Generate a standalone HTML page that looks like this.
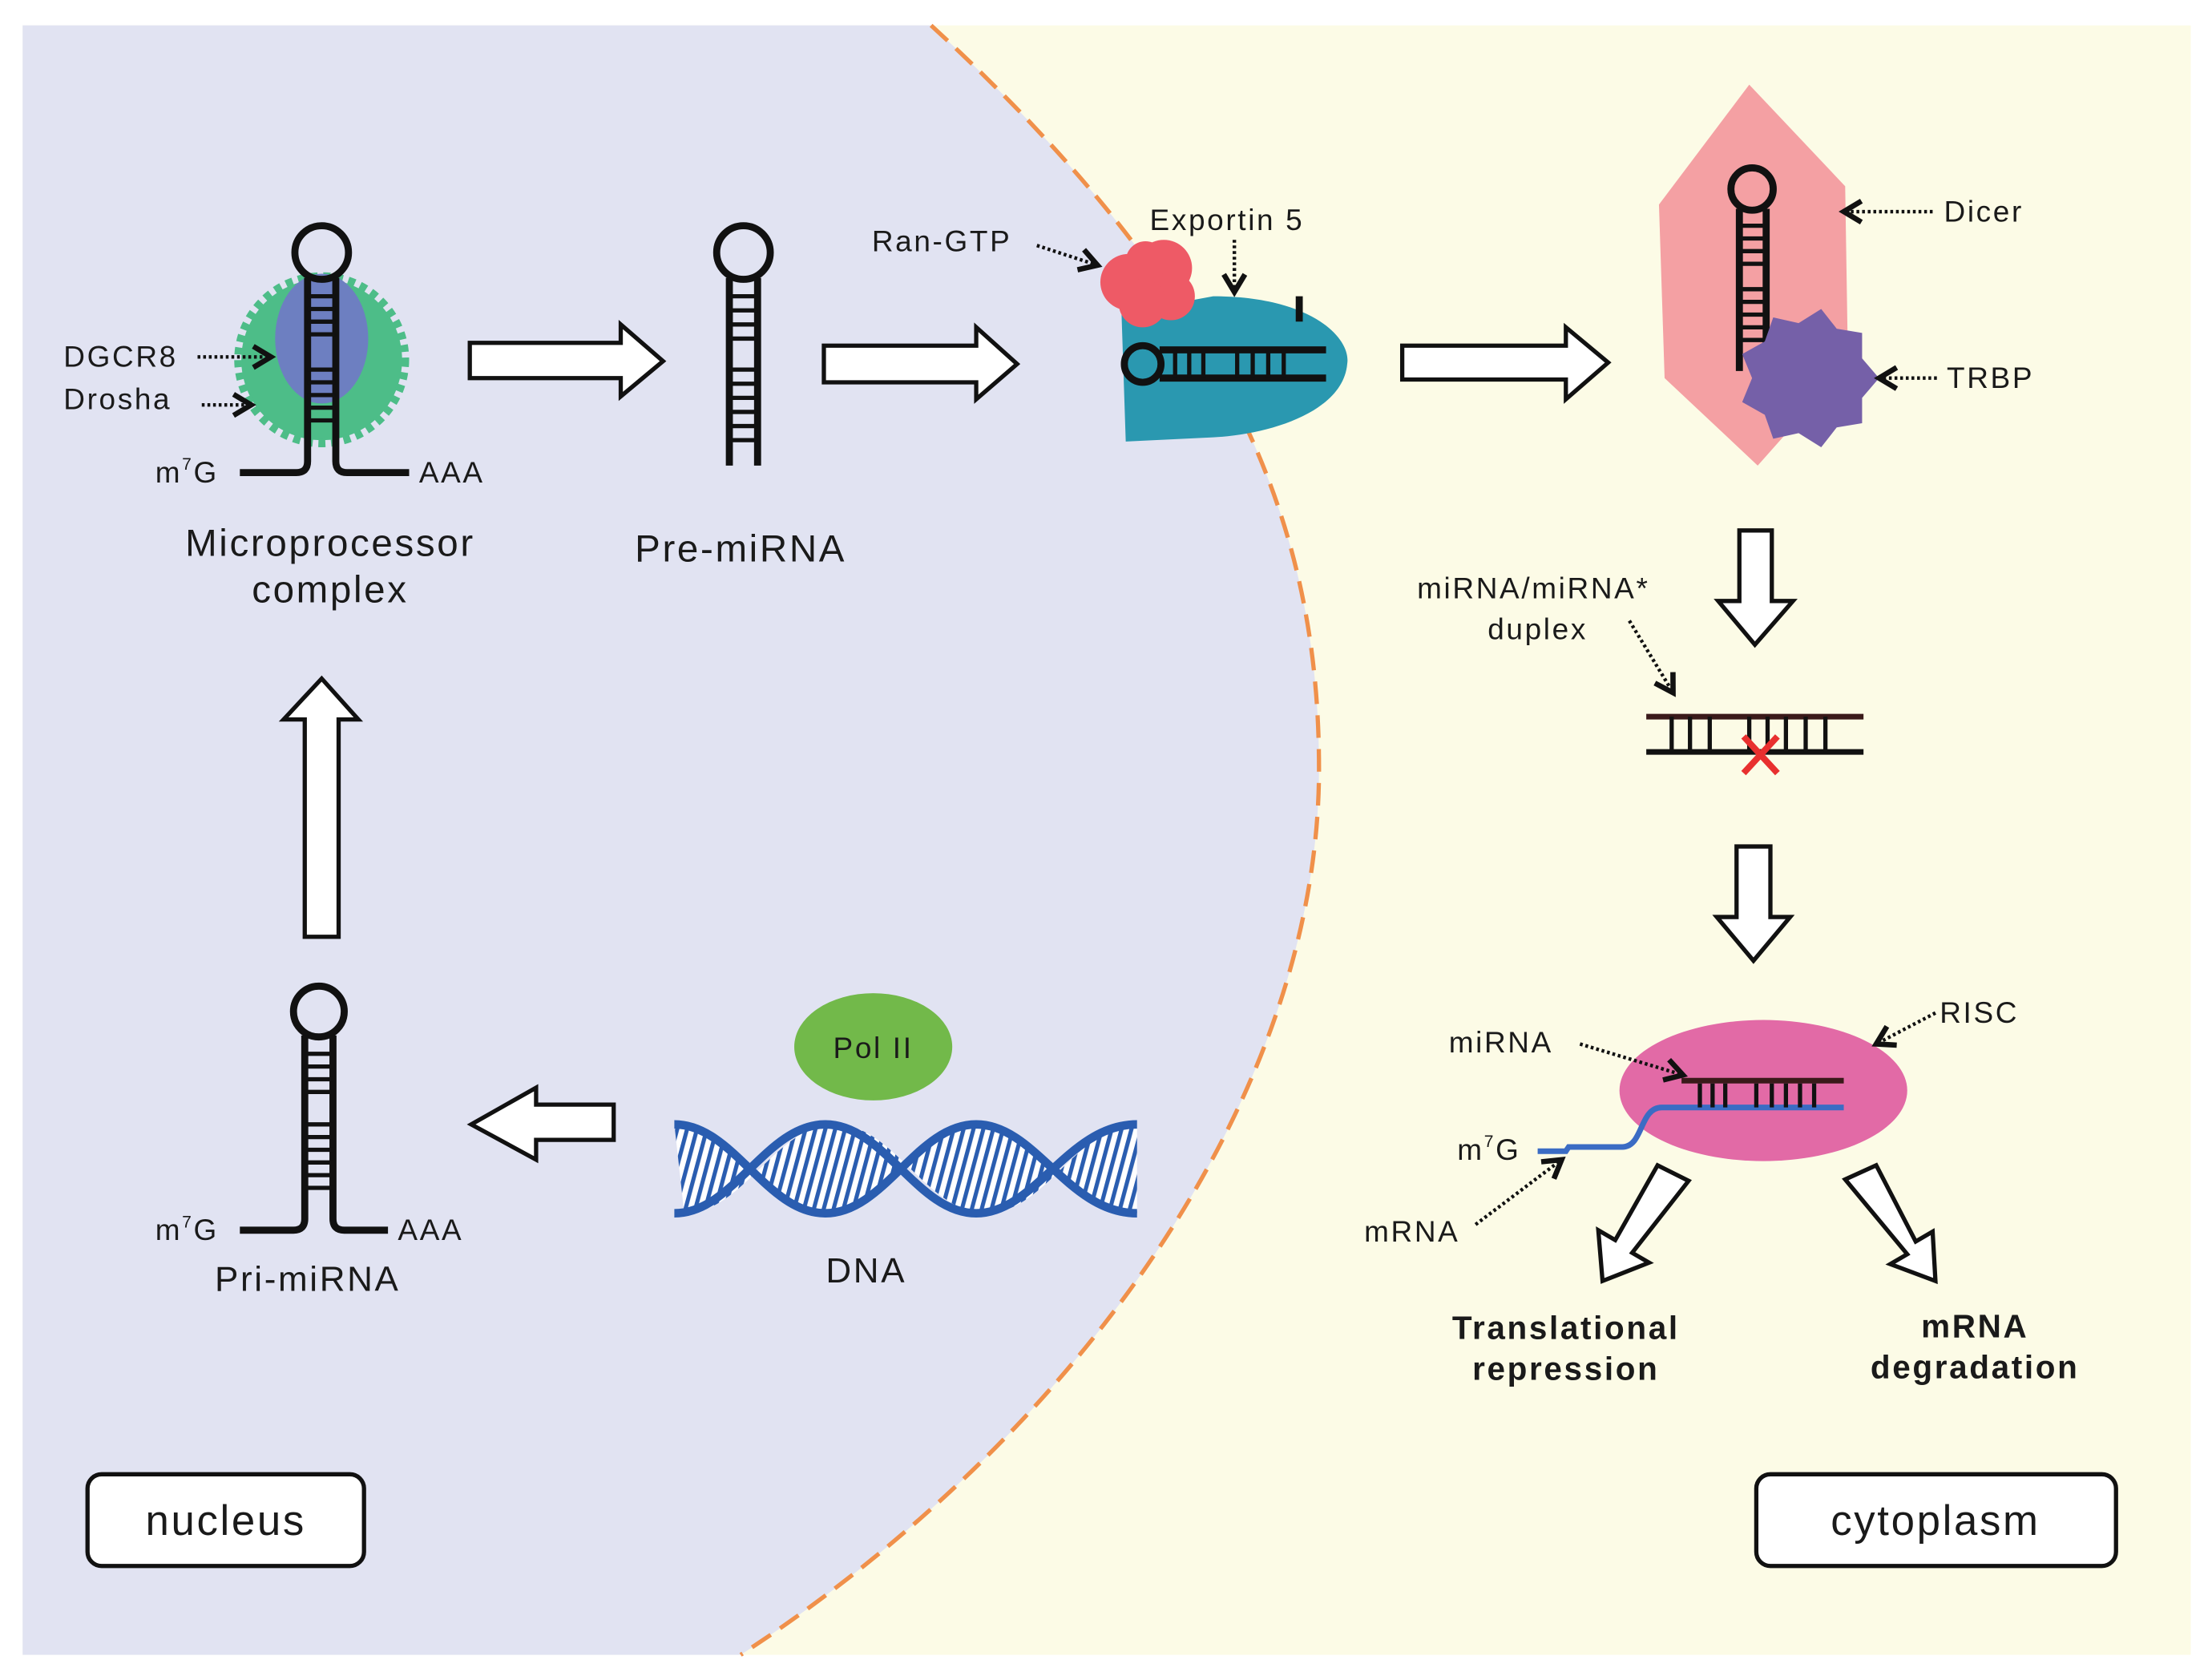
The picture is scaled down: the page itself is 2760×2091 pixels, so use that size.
<!DOCTYPE html>
<html><head><meta charset="utf-8"><style>
html,body{margin:0;padding:0;background:#fff}
svg{display:block}
text{font-family:"Liberation Sans",sans-serif;fill:#1a1a1a;letter-spacing:1.5px}
</style></head><body>
<svg width="2760" height="2091" viewBox="0 0 1568 1188" xmlns="http://www.w3.org/2000/svg">
<defs>
<pattern id="hatch" width="7" height="10" patternUnits="userSpaceOnUse" patternTransform="skewX(-15)">
<rect width="7" height="10" fill="#fff"/><rect width="3" height="10" fill="#2a5db0"/></pattern>
<marker id="ah" markerWidth="8" markerHeight="8" refX="6" refY="4" orient="auto"><path d="M1,1 L6,4 L1,7" fill="none" stroke="#111" stroke-width="1.5"/></marker>
</defs>
<rect x="16" y="18" width="1537" height="1155" fill="#fcfbe6"/>
<path d="M16 18 L660 18 C880 220 935 380 935 545 C935 780 760 1020 525 1173 L16 1173 Z" fill="#e1e3f2"/>
<path d="M660 18 C880 220 935 380 935 545 C935 780 760 1020 525 1173" fill="none" stroke="#f0904a" stroke-width="3" stroke-dasharray="16 8"/>

<!-- Microprocessor -->
<circle cx="228" cy="255" r="57" fill="#4dbd88"/>
<circle cx="228" cy="255" r="59" fill="none" stroke="#4dbd88" stroke-width="6" stroke-dasharray="5 4"/>
<ellipse cx="228" cy="240" rx="33" ry="46" fill="#6d7fc1"/>
<g stroke="#111" fill="none" stroke-width="5">
<circle cx="228" cy="179" r="19"/>
<path d="M218 197 V327 Q218 335 210 335 H170 M238 197 V327 Q238 335 246 335 H290"/>
</g>
<g stroke="#111" stroke-width="3"><path d="M218 210H238M218 219H238M218 228H238M218 237H238M218 262H238M218 271H238M218 280H238M218 289H238M218 298H238"/></g>
<text x="45" y="260" font-size="21">DGCR8</text>
<text x="45" y="290" font-size="21">Drosha</text>
<path d="M140 253 H192" stroke="#111" stroke-width="2.5" stroke-dasharray="2 2" marker-end="url(#ah)"/>
<path d="M143 287 H178" stroke="#111" stroke-width="2.5" stroke-dasharray="2 2" marker-end="url(#ah)"/>
<text x="110" y="342" font-size="21">m<tspan font-size="12" dy="-9">7</tspan><tspan dy="9">G</tspan></text>
<text x="297" y="342" font-size="21">AAA</text>
<text x="234" y="394" font-size="27" text-anchor="middle">Microprocessor</text>
<text x="234" y="427" font-size="27" text-anchor="middle">complex</text>

<!-- arrows -->
<g fill="#fff" stroke="#111" stroke-width="3" stroke-linejoin="miter">
<path d="M333 243 H440 V230 L470 256 L440 281 V268 H333 Z"/>
<path d="M584 245 H692 V232 L721 258 L692 283 V271 H584 Z"/>
<path d="M994 245 H1110 V232 L1140 257 L1110 283 V269 H994 Z"/>
<path d="M1233 376 H1256 V426 H1271 L1244 457 L1218 426 H1233 Z"/>
<path d="M1231 600 H1255 V650 H1269 L1243 681 L1217 650 H1231 Z"/>
<path d="M435 783 H380 V771 L334 797 L380 822 V808 H435 Z"/>
<path d="M216 664 V510 H201 L228 481 L254 510 H240 V664 Z"/>
<path d="M1175 826 L1197 837 L1157 888 L1169 895 L1136 908 L1133 872 L1145 879 Z"/>
<path d="M1308 836 L1330 826 L1358 880 L1370 873 L1372 908 L1340 896 L1352 889 Z"/>
</g>

<!-- Pre-miRNA -->
<g stroke="#111" fill="none" stroke-width="5">
<circle cx="527" cy="179" r="19"/>
<path d="M517 197 V330 M537 197 V330"/>
</g>
<g stroke="#111" stroke-width="3"><path d="M517 210H537M517 220H537M517 230H537M517 240H537M517 262H537M517 272H537M517 282H537M517 292H537M517 302H537M517 312H537"/></g>
<text x="525" y="398" font-size="27" text-anchor="middle">Pre-miRNA</text>

<!-- Exportin -->
<path d="M795 222 L860 210 C930 210 958 240 955 258 C952 292 900 308 860 310 L798 313 Z" fill="#2a98b0"/>
<g fill="#ee5a66"><circle cx="800" cy="200" r="20"/><circle cx="825" cy="190" r="20"/><circle cx="830" cy="210" r="17"/><circle cx="810" cy="215" r="17"/><circle cx="812" cy="185" r="14"/></g>
<g stroke="#111" fill="none" stroke-width="5">
<circle cx="810" cy="258" r="13"/>
<path d="M822 248 H940 M822 268 H940 M921 210 V228"/>
</g>
<g stroke="#111" stroke-width="3"><path d="M833 248V268M843 248V268M853 248V268M877 248V268M888 248V268M899 248V268M910 248V268"/></g>
<text x="618" y="178" font-size="21">Ran-GTP</text>
<path d="M735 174 L778 188" stroke="#111" stroke-width="2.5" stroke-dasharray="2 2" marker-end="url(#ah)"/>
<text x="815" y="163" font-size="21">Exportin 5</text>
<path d="M875 170 V207" stroke="#111" stroke-width="2.5" stroke-dasharray="2 2" marker-end="url(#ah)"/>

<!-- Dicer -->
<polygon points="1240,60 1308,132 1310,258 1246,330 1180,268 1176,145" fill="#f4a0a3"/>
<g stroke="#111" fill="none" stroke-width="5">
<circle cx="1242" cy="134" r="15"/>
<path d="M1233 148 V263 M1252 148 V263"/>
</g>
<g stroke="#111" stroke-width="3"><path d="M1233 160H1252M1233 169H1252M1233 178H1252M1233 187H1252M1233 205H1252M1233 214H1252M1233 223H1252M1233 232H1252M1233 241H1252"/></g>
<polygon points="1332,268 1320,282 1320,300 1302,303 1291,317 1275,307 1257,311 1251,294 1235,285 1242,268 1235,251 1251,242 1257,225 1275,229 1291,219 1302,233 1320,236 1320,254" fill="#7560a8"/>
<text x="1378" y="157" font-size="21">Dicer</text>
<path d="M1370 150 H1307" stroke="#111" stroke-width="2.5" stroke-dasharray="2 2" marker-end="url(#ah)"/>
<text x="1380" y="275" font-size="21">TRBP</text>
<path d="M1373 268 H1332" stroke="#111" stroke-width="2.5" stroke-dasharray="2 2" marker-end="url(#ah)"/>

<!-- duplex -->
<text x="1087" y="424" font-size="21" text-anchor="middle">miRNA/miRNA*</text>
<text x="1090" y="453" font-size="21" text-anchor="middle">duplex</text>
<path d="M1155 440 L1186 491" stroke="#111" stroke-width="2.5" stroke-dasharray="2 2" marker-end="url(#ah)"/>
<g stroke-width="4"><path d="M1167 508 H1321" stroke="#3a1a1a"/><path d="M1167 533 H1321" stroke="#111"/></g>
<g stroke="#111" stroke-width="3"><path d="M1185 508V533M1198 508V533M1212 508V533M1240 508V533M1253 508V533M1266 508V533M1280 508V533M1294 508V533"/></g>
<path d="M1236 522 L1260 548 M1260 522 L1236 548" stroke="#e8302f" stroke-width="4.5"/>

<!-- RISC -->
<ellipse cx="1250" cy="773" rx="102" ry="50" fill="#e26aa6"/>
<path d="M1192 766 H1307" stroke="#3a1a1a" stroke-width="4"/>
<path d="M1090 816 H1110 L1112 813 H1150 C1165 813 1162 785 1178 785 H1307" fill="none" stroke="#3b6cc4" stroke-width="4"/>
<g stroke="#111" stroke-width="3"><path d="M1205 768V785M1214 768V785M1223 768V785M1245 768V785M1256 768V785M1266 768V785M1276 768V785M1286 768V785"/></g>
<text x="1027" y="746" font-size="21">miRNA</text>
<path d="M1120 740 L1193 762" stroke="#111" stroke-width="2.5" stroke-dasharray="2 2" marker-end="url(#ah)"/>
<text x="1375" y="725" font-size="21">RISC</text>
<path d="M1372 718 L1330 740" stroke="#111" stroke-width="2.5" stroke-dasharray="2 2" marker-end="url(#ah)"/>
<text x="1033" y="822" font-size="21">m<tspan font-size="12" dy="-9">7</tspan><tspan dy="9">G</tspan></text>
<text x="967" y="880" font-size="21">mRNA</text>
<path d="M1046 868 L1107 822" stroke="#111" stroke-width="2.5" stroke-dasharray="2 2" marker-end="url(#ah)"/>
<text x="1110" y="949" font-size="23" font-weight="bold" text-anchor="middle">Translational</text>
<text x="1110" y="978" font-size="23" font-weight="bold" text-anchor="middle">repression</text>
<text x="1400" y="948" font-size="23" font-weight="bold" text-anchor="middle">mRNA</text>
<text x="1400" y="977" font-size="23" font-weight="bold" text-anchor="middle">degradation</text>

<!-- Pol II / DNA -->
<ellipse cx="619" cy="742" rx="56" ry="38" fill="#72b94a"/>
<text x="619" y="750" font-size="21" text-anchor="middle">Pol II</text>
<path d="M478 797 C520 797 543 860 585 860 C627 860 650 797 692 797 C734 797 757 860 800 860 L806 860 L806 797 C764 797 741 860 699 860 C657 860 634 797 592 797 C550 797 527 860 485 860 Z" fill="url(#hatch)" fill-rule="evenodd"/>
<path d="M478 797 C520 797 543 860 585 860 C627 860 650 797 692 797 C734 797 757 860 806 860" fill="none" stroke="#2a5db0" stroke-width="6"/>
<path d="M478 860 C520 860 543 797 585 797 C627 797 650 860 692 860 C734 860 757 797 806 797" fill="none" stroke="#2a5db0" stroke-width="6"/>
<text x="614" y="909" font-size="25" text-anchor="middle">DNA</text>

<!-- Pri-miRNA -->
<g stroke="#111" fill="none" stroke-width="5">
<circle cx="226" cy="717" r="18"/>
<path d="M216 734 V864 Q216 872 208 872 H170 M236 734 V864 Q236 872 244 872 H275"/>
</g>
<g stroke="#111" stroke-width="3"><path d="M216 747H236M216 756H236M216 765H236M216 774H236M216 797H236M216 806H236M216 815H236M216 824H236M216 833H236M216 842H236"/></g>
<text x="110" y="879" font-size="21">m<tspan font-size="12" dy="-9">7</tspan><tspan dy="9">G</tspan></text>
<text x="282" y="879" font-size="21">AAA</text>
<text x="218" y="915" font-size="25" text-anchor="middle">Pri-miRNA</text>

<!-- boxes -->
<rect x="62" y="1045" width="196" height="65" rx="10" fill="#fff" stroke="#111" stroke-width="3"/>
<text x="160" y="1088" font-size="30" text-anchor="middle">nucleus</text>
<rect x="1245" y="1045" width="255" height="65" rx="10" fill="#fff" stroke="#111" stroke-width="3"/>
<text x="1372" y="1088" font-size="30" text-anchor="middle">cytoplasm</text>
</svg>
</body></html>
